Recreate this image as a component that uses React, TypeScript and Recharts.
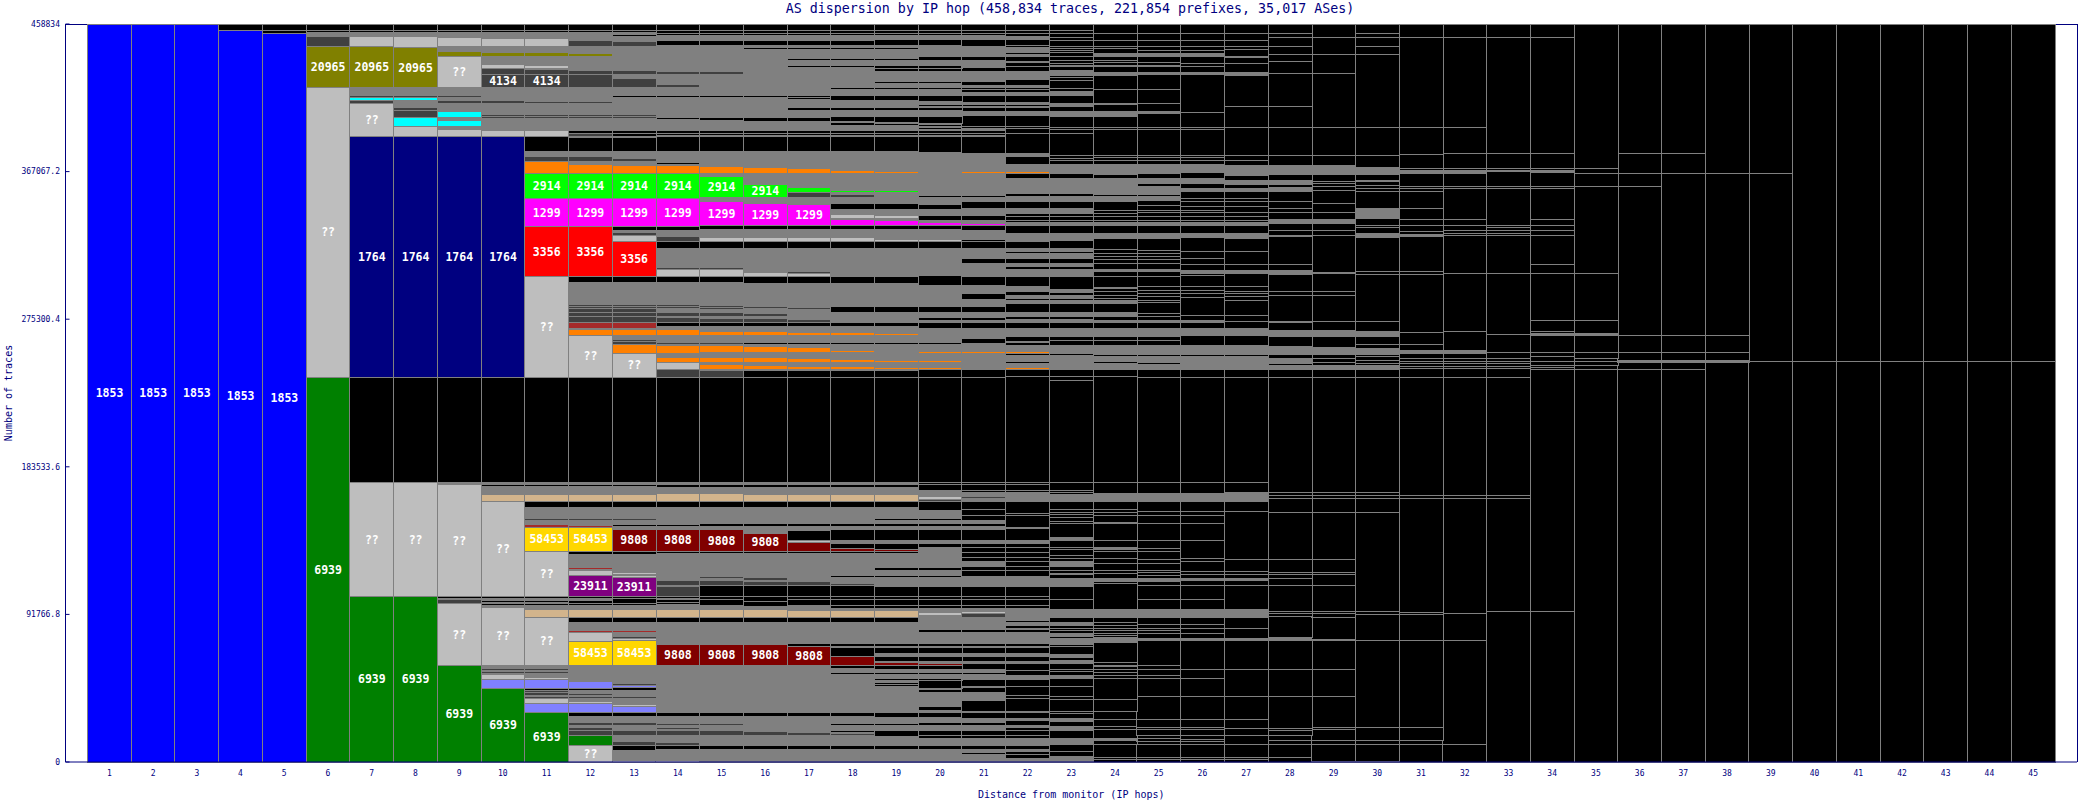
import React from 'react';
import { BarChart, Bar, XAxis, YAxis, Cell, LabelList } from 'recharts';

// AS categories (a bare number in a hop list means "other small AS")
const g = 'many', d = 'dark', s = 'unknown', e = '1853', f = '6939', n = '1764', o = '20965', c = 'cyanAS', a = 'orangeAS',
  l = '2914', m = '1299', r = '3356', b = 'brownAS', t = 'tanAS', y = '58453', p = '23911', w = '9808', v = 'violetAS', k = 'other';

const CATEGORY_COLORS: Record<string, string> = {
  many: '#808080', dark: '#404040', unknown: '#bebebe', '1853': '#0000ff', '6939': '#008000', '1764': '#000080',
  '20965': '#808000', cyanAS: '#00ffff', orangeAS: '#ff8000', '2914': '#00ff00', '1299': '#ff00ff', '3356': '#ff0000',
  brownAS: '#a52a2a', tanAS: '#d2b48c', '58453': '#ffd700', '23911': '#800080', '9808': '#800000', violetAS: '#8080ff', other: '#000000',
};

const TOTAL_TRACES = 458834;
const Y_TICKS = [0, 91766.8, 183533.6, 275300.4, 367067.2, 458834];

// Each hop, top to bottom: the trace count at the lower edge of each block
const HOP_01 = [[0, e, '1853']];
const HOP_02 = [[0, e, '1853']];
const HOP_03 = [[0, e, '1853']];
const HOP_04 = [454650, [0, e, '1853']];
const HOP_05 = [454770, 453220, [0, e, '1853']];
const HOP_06 = [454770, 453840, [451350, g], [444950, d], [419460, o, '20965'], [239170, s, '??'], [0, f, '6939']];
const HOP_07 = [454770, 453840, [451050, g], [444950, s], [419460, o, '20965'], [414360, g], [413120, d], [411570, c], [409390, d], [388870, s, '??'], [239170, n, '1764'], 173890, [102770, s, '??'], [0, f, '6939']];
const HOP_08 = [454770, 453840, [451050, g], [444210, s], [419460, o, '20965'], [414360, g], [413120, d], [411570, c], [406790, g], [405040, d], [400690, d], [395210, c], [388870, s], [239170, n, '1764'], 173890, [102770, s, '??'], [0, f, '6939']];
const HOP_09 = [454770, 453840, [450420, g], [444950, s], [441720, g], [438730, o], [419460, s, '??'], [414360, g], [413120, d], [411260, g], [409390, d], [404420, g], [400690, c], [399130, g], [395210, c], [393540, g], [388870, s], [239170, n, '1764'], 173890, [172400, g], [102770, s, '??'], 101960, [100720, g], [98410, d], [60120, s, '??'], [0, f, '6939']];
const HOP_10 = [454770, 453840, [449680, g], [444950, s], [441100, g], [438730, o], [438300, g], 437360, [433950, g], [431150, s], [427550, d], [419460, d, '4134'], [411260, g], [409390, d], [402860, g], [401620, d], [400380, d], [392910, g], [388870, s], [239170, n, '1764'], 173890, [172400, g], 171280, [166620, g], [161950, t], [102770, s, '??'], 101960, [100400, g], 99160, [98540, g], 97610, [96050, g], [60120, s, '??'], [58130, g], [56890, d], [56260, g], [55020, d], [54710, g], [51290, s], [45820, v], [0, f, '6939']];
const HOP_11 = [454770, 453840, [449680, g], [444950, s], [441100, g], [438730, o], [438300, g], 437360, [433010, g], [431150, s], [430840, g], [427550, d], [419460, d, '4134'], [410630, g], [409390, d], [402860, g], [401620, d], [400380, d], [392600, g], [388870, s], 379670, [376750, g], [373330, d], [365990, a], [350330, l, '2914'], [332920, m, '1299'], [301840, r, '3356'], [239170, s, '??'], 173890, [172400, g], 171280, [166620, g], [161950, t], 158220, [151380, g], [150140, d], [147960, g], [145910, b], [130990, y, '58453'], [102770, s, '??'], 101960, [100400, g], 99160, [98540, g], 97610, [94810, g], [89840, t], [60120, s, '??'], [58130, g], [56890, d], [56260, g], [55020, d], [52840, g], [51600, s], [45820, v], 44760, [43520, d], [42900, g], [41650, d], [41030, g], [39600, d], [36490, s], [30900, v], [0, f, '6939']];
const HOP_12 = [454770, 453840, [448870, g], [444950, d], [440480, g], [438730, o], [438300, g], 437360, [429910, g], [427550, d], [419460, d], [410630, g], [409390, d], [402860, g], [401620, d], [400380, d], [392600, g], 390740, [389190, d], [388560, g], 379670, [376750, g], [373330, d], [371470, g], [365990, a], [350330, l, '2914'], [332920, m, '1299'], [301840, r, '3356'], 298420, [284430, g], [283180, d], [281940, d], [279770, d], [277090, d], [273360, d], [269630, b], [268890, g], [265280, a], [239170, s, '??'], 173890, [172400, g], 171280, [166620, g], [161950, t], 158220, [151380, g], [150140, d], [147340, g], [145910, b], [130990, y, '58453'], 129130, [121850, g], [120920, d], [119680, b], [119370, g], [115950, s], [102770, p, '23911'], 101960, [100400, g], 98410, 97610, [94810, g], [89840, t], 87040, [83310, g], [82380, d], [81750, g], [80820, b], [75040, s], [60120, y, '58453'], [50980, g], [50050, s], [45820, v], 44760, [42590, g], [41650, d], [41030, g], [39600, d], [37920, g], [36490, s], [30900, v], 28410, [24560, g], [23000, d], [22380, g], [21320, d], [21140, g], [19710, d], [16600, d], [10380, f], [0, s, '??']];
const HOP_13 = [454770, 453840, [452290, g], 451050, [448250, g], [444950, d], [438300, g], 437360, [429910, g], [427550, d], [425240, g], [419460, d], [414360, g], 413120, [402860, g], [401620, d], [400380, d], [392600, g], 390740, 389190, [388560, g], 379670, [375510, g], [373330, d], [370840, g], [365990, a], [350330, l, '2914'], [332920, m, '1299'], 330560, [329200, g], [327440, d], [323710, s], [301840, r, '3356'], 298420, [284430, g], [283180, d], [281940, d], [279770, d], [277090, d], [273360, d], [269630, b], [269010, g], [265280, a], [262670, g], [261430, d], [259680, d], [254090, a], [239170, s, '??'], 173890, [172400, g], 171280, [166620, g], [161950, t], 158220, [151380, g], [150140, d], [147530, g], 146410, [144860, g], [130990, w, '9808'], 129130, [121850, g], [120920, d], [117810, g], [116320, s], [115950, g], [114830, s], [102770, p, '23911'], 101960, 98410, 97610, [94810, g], [89840, t], 87040, [83310, g], [82380, d], [81750, g], [80820, b], [78020, g], [76900, d], [75230, s], [60120, y, '58453'], [48800, g], [47870, d], [46010, v], 44760, [41030, g], [39790, d], [35750, g], [34260, s], [30900, v], 28410, [24560, g], [23000, d], [22380, g], [21320, d], [20830, g], [20080, s], [19710, g], [16600, d], [16160, g], 15540, [12870, g], [10380, d], 7460, [1240, g], [0, s]];
const HOP_14 = [454770, 453220, 451660, [448310, g], 445450, [438300, g], 437680, [430840, g], 430030, [429290, g], [427420, d], [421080, g], [419460, d], [414180, g], 413430, [400500, g], 399630, [392480, g], 390740, 389500, [388670, g], 379670, [373020, g], 371470, [370840, g], [365990, a], [350330, l, '2914'], [332920, m, '1299'], 330560, [326700, g], [323710, d], 319120, [307430, g], [306190, d], [301840, s], 298420, [284430, g], [283180, d], [281940, d], [279580, g], [277090, d], [276350, g], [273360, d], 270880, [268760, g], [265280, a], [261110, g], [259870, d], [259250, g], [254090, a], [251790, g], [248680, a], [248240, g], [244140, s], [239170, d], 173890, [172640, g], 170970, [166740, g], [161950, t], 158040, [147530, g], 146600, [144860, g], [131180, w, '9808'], 129440, [115640, g], [114830, d], [114390, g], [113460, d], [112840, g], [109920, d], [109420, g], [103080, d], 101960, [100720, g], 99160, 97920, [94810, g], [89840, t], 87040, [82060, g], 81320, [73360, g], [60120, w, '9808'], [45260, g], 44640, [32020, g], [31090, v], [30590, g], 28470, [23750, g], [22880, d], [21260, g], [20390, d], [19400, g], [16600, d], 15600, [11940, g], [10440, d], 7520, [750, g], [0, s]];
const HOP_15 = [454770, 453220, 451660, [448310, g], 445450, [438300, g], 437680, [430840, g], 430030, [429290, g], [427420, d], [414180, g], 413430, [400690, g], 399000, [392480, g], 390740, 389500, [388670, g], 379670, [370530, g], [365990, a], [363880, g], [350700, l, '2914'], [348770, g], [333290, m, '1299'], 331060, [325960, g], [323710, s], 319360, [307430, g], [306190, d], [301960, s], 298230, [284120, g], [282870, d], [281630, d], [279210, g], [277090, d], [276040, g], [273360, d], 270880, [267950, g], [265280, a], [260930, g], [259870, d], [259250, g], [254330, a], [251600, g], [248490, a], [247310, g], [244140, a], [243270, g], [239170, d], 173890, [172640, g], 170970, [166740, g], [161950, t], 158040, [148280, g], 146660, [144360, g], [130990, w, '9808'], 129440, [115320, g], [114390, d], [112840, g], [109920, d], 103080, 100720, 97420, [94690, g], [90020, t], 87040, [82060, g], 81320, [73360, g], [60120, w, '9808'], [45260, g], 44640, [30590, g], 28470, [23750, g], [22880, d], [19400, g], [16600, d], 15600, [10070, g], 7520, [0, g]];
const HOP_16 = [454770, 453220, 451660, [448310, g], 445450, [444080, g], 443270, [438300, g], 437680, [432700, g], 432140, [430840, g], 430030, [428350, g], [427420, d], [425560, g], 424810, [414300, g], 413430, [400690, g], 398390, [392480, g], 390740, 389500, [388670, g], 379670, [369910, g], [365990, a], [363700, g], 363070, [359340, g], [350700, l, '2914'], [347340, g], [333290, m, '1299'], 331060, [325960, g], [323710, s], 319360, [304630, g], [301960, s], 297790, [283490, g], [282250, d], [281630, d], [278830, g], [277090, d], [276040, g], [273360, d], 270880, [267950, g], [265280, a], [260930, g], 259870, [258190, g], [254330, a], [251600, g], [248490, a], [246810, g], [244140, a], [243270, g], [239170, k], 173890, [172640, g], 170970, [166120, g], [161950, t], 158040, [148280, g], 146660, [142370, g], [131180, w, '9808'], 129440, [114580, g], [113030, d], [112090, g], [109920, d], 103080, 100090, 96680, [94690, g], [90020, t], 87040, [82060, g], 81320, [73360, g], [60120, w, '9808'], [45260, g], 44640, [30590, g], 28470, [18840, g], [16600, d], 15600, [10070, g], 7520, [0, g]];
const HOP_17 = [454770, 453220, 451660, [448310, g], 445450, [444080, g], 443270, [438300, g], 437620, [437360, g], 436310, [432770, g], 431780, [430840, g], 429650, [428350, g], [427420, d], [425430, g], 424680, [414300, g], 413430, [412990, g], 412060, [406720, g], 405230, [400500, g], 398390, [392480, g], 390740, 389500, [388670, g], 379670, [369290, g], [365990, a], [363700, g], 363070, [357040, g], [354180, l], [350700, d], [346910, g], [333290, m, '1299'], 331060, [325960, g], [323710, s], 319360, [308680, g], 308050, [305250, g], [303580, d], [301960, s], 297790, [283490, g], [282560, d], [281630, d], [275410, g], [273360, d], 270880, [267330, g], [265280, a], [260930, g], 259870, [257570, g], [254330, a], [251170, g], [248490, a], [246190, g], [244140, a], [243270, g], 239170, 173890, [172640, g], 170970, [166120, g], [161950, t], 158040, [148090, g], 146160, [144230, g], 137890, [137580, g], [136400, s], [131180, w], 129440, [113710, g], [113030, d], [112090, g], [109920, d], 103080, 100720, 97420, [94060, g], [90020, t], 87040, [82060, g], 81320, [73550, g], 71500, [60120, w, '9808'], [45260, g], 44640, [40290, g], 39660, [30590, g], 28470, [18460, g], [16600, d], 15600, [10070, g], 7520, [0, g]];
const HOP_18 = [454770, 453220, 451660, [448310, g], 445450, [444080, g], 443270, [438300, g], 437620, [437360, g], 436310, [432770, g], 431780, [430840, g], 429650, [425430, g], 424680, [419210, g], 418280, [414300, g], 411440, [406720, g], 405230, [401120, g], 398010, [397390, g], 396030, [392480, g], 390740, 389500, [388670, g], 379670, [378620, g], [372400, g], 371780, [368050, g], [365990, a], [363700, g], 363070, [355610, g], [354180, l], [352820, g], [350700, d], [347100, g], 343800, [340690, g], [338010, s], [337580, g], [333290, m], 331060, [325960, g], [323710, s], 319360, [308680, g], 308050, [304820, g], 304130, [303080, g], 302460, [301840, g], 297790, [288470, g], 287850, [283490, g], 279770, [276350, g], 275720, [274170, g], 273550, 270880, [269820, g], 269200, [267140, g], [265280, a], [260930, g], 259870, [256140, g], [254330, a], [250550, g], [248490, a], [246190, g], [244140, a], [243270, g], 239170, 173890, [172640, g], 170970, [166120, g], [161950, t], 158040, [148090, g], 146160, [144420, g], 137890, [136030, g], 132730, [131180, w], 129440, [115820, g], 114890, [110850, g], [109920, d], 103080, 100720, 97420, 95740, [94060, g], [90020, t], 87040, [82060, g], 81320, [73550, g], 71870, [70930, g], 65780, [60120, w], 58250, [55460, g], 54710, [49300, g], 48550, [45260, g], 44640, [40290, g], 39660, [30590, g], 28470, [23750, g], 22880, [19400, g], 18510, [17590, g], [16600, d], 15600, [10070, g], 7520, [0, g]];
const HOP_19 = [454770, 453220, 451660, [449050, g], 445450, [444080, g], 443270, [438300, g], 437620, [437360, g], 436310, [432770, g], 431460, [430900, g], 429290, [425430, g], 424680, [422820, g], 421830, [419210, g], 418280, [414300, g], 411440, [406720, g], 405230, [401120, g], 397450, [396960, g], 395720, [392480, g], 390740, 389500, [388670, g], 379670, [378620, g], [372400, g], 371780, [367430, g], [365990, a], [363700, g], 363070, [355610, g], [354180, l], [351890, g], [350700, d], [347100, g], 343800, [342560, g], 341940, [339760, g], [338010, s], [336960, g], [333290, m], 331060, [325150, g], [323710, s], 319360, [308680, g], 308050, [304820, g], 304130, [303080, g], 302460, [301840, g], 297790, [288470, g], 287850, [283490, g], 279770, [276350, g], 275720, [274170, g], 273550, 270880, [269820, g], 269200, [266400, g], [265280, a], [260930, g], 259870, [255520, g], [254330, a], [249920, g], [248490, a], [245570, g], [244140, a], [243270, g], 239170, 173890, [172640, g], 170970, [166120, g], [161950, t], 158040, [151200, g], 149890, [148090, g], 146160, [144420, g], 137890, [136030, g], 132110, [131930, g], [131060, w], 129440, [120730, g], 119240, [115820, g], 114890, [109300, g], 103080, 100720, 97420, 95430, [94060, g], [90020, t], 87040, [82060, g], 81320, [73550, g], 71870, [70930, g], 67450, [65590, g], 62240, [61740, g], [60180, w], 57690, [55460, g], 54710, [51790, g], 50980, [49300, g], 48360, [48050, g], 47130, [45260, g], 44640, [40290, g], 39660, [30590, g], 27850, [23750, g], 22880, [19400, g], 15600, [10070, g], 7520, [0, g]];
const HOP_20 = [454770, 453220, 451660, [449050, g], 445450, [438610, g], 436310, [432770, g], 431460, [431150, g], 429290, [425430, g], 424680, [422820, g], 421830, [419210, g], 418280, [414300, g], 410510, [408900, g], 407830, [407210, g], 405230, [401430, g], 396840, [396340, g], 395210, [394350, g], 393100, [392480, g], 390740, 389500, [388670, g], 379240, [373020, g], 372400, [366800, g], [365990, a], [363700, g], 363070, [359970, g], 359340, [353130, g], 352510, 350960, [346910, g], 343800, [342560, g], 341940, [340070, g], 336960, [335410, g], [333290, m], 331060, [325150, g], [323710, s], 319360, [310240, g], 309620, [307740, g], 307120, [304820, g], 304130, [303080, g], 302460, 296550, [291580, g], 290950, [288280, g], 287850, [283490, g], 279770, [276650, g], 274480, [273360, g], 269510, [266090, g], [265280, a], [260930, g], 259870, [255080, g], [254270, a], [249610, g], [248680, a], [245130, g], [244140, a], [239170, k], 173890, 172330, 168980, [165060, g], [163380, s], [162080, d], 156540, [151200, g], 149890, [148090, g], 146160, [144420, g], 137890, [136030, g], 133230, [120920, g], 119240, [115820, g], 114890, [109300, g], 103080, 100720, 97420, 95430, [92940, g], [91260, s], [89840, g], [84680, g], 83990, [82180, g], 80820, [73550, g], 71870, [70930, g], 67450, [65590, g], 62240, [61240, g], [60180, w], 57690, [55460, g], 54710, [51790, g], 50980, [50420, g], 45690, [44950, g], 42900, [40290, g], 39660, [36250, g], 35440, [34380, g], 32200, [30590, g], 27850, [24430, g], 22880, [19520, g], 16600, 14920, [10070, g], 7520, [0, g]];
const HOP_21 = [454770, 453220, 451660, [449050, g], 445130, [438730, g], 436250, [433330, g], 432140, [431780, g], 429290, [425240, g], 424620, [422950, g], 420700, [419530, g], 418220, [417840, g], 416350, [414300, g], 410130, [408900, g], 407650, [407090, g], 404730, [401800, g], 395410, [394910, g], 394040, [392480, g], 390740, 389500, [388870, g], 378300, [373020, g], 372400, [367240, g], [365990, a], [363700, g], 363070, [359970, g], 359340, [353130, g], 352510, 350960, [348770, g], 344120, [340070, g], 336960, [335100, g], [333290, m], 330740, [325150, g], 323900, 319360, [317070, g], 316450, [313340, g], 309920, [308370, g], 307740, [301840, g], 296550, [291580, g], 287850, [285980, g], 285360, [283490, g], 279770, [276650, g], 274480, [273360, g], 269820, [263120, g], 260490, [255080, g], [254270, a], [249300, g], [248680, a], [244940, g], [244140, a], [239170, k], 173890, 172330, 168980, 167360, [165870, g], [165250, t], [164130, d], [162140, g], 157290, 153250, 149890, [148090, g], 146160, [144420, g], 137890, [136030, g], 133540, 130430, 127140, 124470, [121360, g], 119240, 115080, [109420, g], 103080, 100720, 97420, 95430, [93570, g], [92320, s], [90150, d], [86730, g], 86110, [84680, g], 83990, [82180, g], 80820, [79080, g], 78400, [73550, g], 71870, [70930, g], 67450, [65590, g], 62240, [61360, g], 57690, [55460, g], 54210, [51170, g], 46750, [46500, g], 42900, [40290, g], 39350, [38110, g], 31580, [30590, g], 27230, [24430, g], 22880, [19520, g], 16600, 14920, [10070, g], 7520, [5600, g], 4850, 4040, [0, g]];
const HOP_22 = [454770, 453220, 451350, [450110, g], 449050, 445250, 444080, [441220, g], 440160, [438610, g], 435500, [434690, g], 432700, 429290, [425240, g], 424620, 420700, [419530, g], 418220, [417840, g], 416350, [414300, g], 410130, [408900, g], 407650, [407090, g], 404730, [401800, g], 395410, 394040, 390740, 378620, [376320, g], 371780, [367120, g], [365990, a], 362820, [359340, g], 358290, [353560, g], 351890, [348340, g], 344240, [341130, g], 339010, 336960, 335280, [334410, g], [333290, m], 328680, [323470, g], 319360, [317250, g], 316260, [313150, g], 310040, [307930, g], 306310, [302150, g], 295930, [292390, g], 290330, [288280, g], 287230, [285170, g], 279330, [276840, g], 275410, [273110, g], 269630, [265280, g], [264430, g], 261300, 260800, 259250, [255080, g], [254090, a], 253030, [249610, g], [248870, a], 247870, [245130, g], [244140, a], 239540, 173890, 172330, 168980, 167360, [161830, g], 154550, 153560, 145790, [145040, g], 137890, [136030, g], 133540, 130430, 127140, 124470, 121850, 119240, 115080, [109420, g], 103080, 100720, 97420, 95430, [88280, g], 86600, [84680, g], 83310, [82180, g], 80820, [79080, g], 78400, [73550, g], 71870, [70930, g], 67450, [65590, g], 62240, [61360, g], 57070, [56700, g], 53960, [51170, g], 47130, [46750, g], 41530, [41150, g], 39790, [39170, g], 31580, [30590, g], 26860, [25930, g], 22510, [21570, g], 19710, 16600, 14920, [10070, g], 7520, [6400, g], 4660, 2180, [0, g]];
const HOP_23 = [454770, 453220, 450550, 448870, 444700, 443580, 442340, 441100, 438930, 435990, 434570, 433330, 432270, 429780, [427110, g], 425680, 424000, 419030, 416730, [414670, g], 409510, [407830, g], 404290, [401620, g], 394590, 393230, 390740, 377370, 375510, 374260, 371780, [366170, g], 363070, [359340, g], 358290, [353560, g], 351890, [348340, g], 344240, [341130, g], 339010, 336960, 335280, [333420, g], 328680, [324530, g], 319360, [317250, g], 316260, [313150, g], 310040, [307930, g], 306310, [302150, g], 294060, [291770, g], 290330, [288280, g], 287230, [285170, g], 279330, [276840, g], 275410, [273110, g], 269630, [264430, g], 262360, 259250, [254090, g], 253030, [249300, g], [248680, a], 247870, [244140, g], 239540, 237490, 173890, 169100, 167860, 166620, [161830, g], 156980, 155430, 154180, 152320, 149390, 148400, 139880, [137580, g], 133480, 132420, 128690, 126640, 124530, 123910, [121850, g], 119370, 117310, 116880, 114210, [109420, g], 101150, 94930, [89960, g], 86600, [84740, g], 82990, 82060, 80010, [78330, g], 77090, [73360, g], 71680, 67140, [65090, g], 62980, [60930, g], 57630, 56140, 54090, [52040, g], 46810, 40600, 38550, 31270, 30280, 27170, [25490, g], 22380, [19460, g], 14730, [10570, g], 6400, 3290, [0, g]];
const HOP_24 = [453220, 448870, 444700, 443580, 440600, [438930, g], 435990, 434750, 433330, 432270, 428540, [427110, g], 418400, 409510, 408770, 404290, [401620, g], 394590, 393350, 377370, 375890, 374260, 371780, [365550, g], 363070, [358720, g], 357670, [353130, g], 351890, [348340, g], 343180, 341130, 339010, 336960, 335280, [333420, g], 328680, [325580, g], 318930, 316260, 314580, 312530, 310040, 306310, [304820, g], 301710, 295310, 294250, 292390, 290330, 288280, 287230, [285170, g], 279330, [276840, g], 274790, [273110, g], 269630, [264430, g], 262360, 259250, [253650, g], 252410, [248870, g], 247870, [244140, g], 239540, 173890, 167050, [161830, g], 157100, 155240, 153560, 149210, [148280, g], 137580, 133480, [132240, g], 130740, 126640, 123530, 119370, 117310, 114210, [112090, g], 111100, 94930, [89960, g], 86600, 85170, 83120, 81630, 80010, 78950, 77710, [74790, g], 74170, 61980, 60300, 59250, 57200, 55770, 54090, 52040, 38550, 31270, 26550, 21950, 20330, 14920, [13240, g], 11190, 10570, 2920, 1680, 0];
const HOP_25 = [453220, 448870, 444700, 442650, 440600, [438930, g], 434750, 433330, 432270, 428540, [427420, g], 418220, 409510, 404290, [403170, g], 394590, 393350, 377370, 375890, 374260, 371780, [365860, g], 363070, [359660, g], 357670, [353130, g], 351460, [349400, g], 346290, 343180, 341500, 339010, 336960, 335280, [333420, g], 328680, [325580, g], 318310, 316260, 314580, 312530, 310040, 306310, [304820, g], 302150, 295490, 293440, 291390, 289270, 287230, 285550, 278960, 276840, 274790, [273110, g], 269630, [264430, g], 262360, 259250, [253650, g], 252410, [248240, g], 247430, [244140, g], 239170, 173890, 167050, [161830, g], 155610, 153560, 148590, 137580, 132860, 130740, 126020, 123530, 119370, 117690, 116260, 114210, [112530, g], 110040, 101150, 94930, [89960, g], 85790, 83120, 81630, 80010, 76900, [75410, g], 60300, 57630, 54090, 52040, 40600, 26550, 21570, 20330, 16600, 14730, 12620, 10570, 2920, 1680, 0];
const HOP_26 = [453220, 448870, 444700, 442650, 440600, [438930, g], 434380, 432270, 428540, [427420, g], 403920, 394590, 393350, 377370, 375890, 374260, 371780, [366490, g], 363070, [359660, g], 356860, [354560, g], 350460, 348340, 345240, 343180, 341500, 339010, 336960, 335280, [333420, g], 328680, [326210, g], 317500, 313150, 309000, 305440, [303820, g], 302770, 295490, 293010, 291390, 288900, 277900, 274290, [273110, g], 269630, [265470, g], 259250, [253650, g], 252410, [248060, g], 247430, [244140, g], 239170, 173890, 167050, [161830, g], 155610, 153560, 148590, 137580, 126640, 124530, 118310, 116880, 114210, [113150, g], 110040, 101150, 94930, [89960, g], 85790, 83120, 80010, 77090, [75410, g], 57630, 52040, 40600, 26550, 21570, 20330, 16600, 14110, 12620, 10570, 2920, 1680, 0];
const HOP_27 = [453220, 448870, 444700, 443090, 438930, 438110, 434380, 428540, [427110, g], 407400, 394590, 377370, 374260, 371150, [365550, g], 364930, 361830, [359340, g], 356860, [354560, g], 350460, 348340, 345240, 341500, 339010, 336960, 335280, [333420, g], 328680, [325580, g], 317500, 309000, 305440, [303820, g], 295490, 292390, 291390, 289270, 287230, 277900, 273740, 269630, [265470, g], 259250, [253650, g], 252410, [248060, g], 247430, [244140, g], 239170, 173890, 167670, 167050, [161830, g], 155610, 126020, 118310, 116880, 114210, [113150, g], 110040, 94930, [89960, g], 83120, 77090, [75410, g], 57630, 40600, 26550, 20950, 16600, 10570, 2920, 1680, 0];
const HOP_28 = [453220, 450550, 444700, 439980, 435620, 428160, 407400, 394590, 377370, 371150, [365550, g], 361830, [359340, g], 357480, [354560, g], 348340, 344240, 341500, 337390, [334910, g], 330740, 327630, [327010, g], 309000, 305440, [303390, g], 292390, 290330, 274170, [273110, g], 268570, [264850, g], 258190, [253460, g], 250980, [247870, g], 246810, [244140, g], 239170, 167670, 165990, 163940, 155240, 126020, 117930, 116690, 114210, 110040, 93880, 92440, 90330, 77710, [75410, g], 57630, 40600, 20950, 19890, 16600, 13240, 10570, 2920, 0];
const HOP_29 = [450550, 439980, 428160, 394590, 377370, 370720, [365550, g], 360770, 359780, 357670, 355610, 347530, 341500, 337390, [335100, g], 330310, 327630, 304630, 303820, 292390, 290330, 273740, 268570, [264850, g], 257820, [253460, g], 250980, 248240, 246810, [244140, g], 239170, 167420, 165990, 163940, 155240, 126020, 117930, 116690, 110040, 93880, 92440, 89960, 76160, [75410, g], 57630, 40600, 21760, 20330, 13240, 10570, 620, 0];
const HOP_30 = [453220, 450550, 444700, 439980, 394590, 377370, 369720, [365550, g], 361830, 360770, 358720, 356670, 354560, 344240, [338010, g], 333850, 332430, 328680, [326210, g], 304820, 303390, 273740, 267950, [264850, g], 259680, 257200, [253460, g], 252410, 249920, 247870, 246810, [244140, g], 239170, 167670, 165990, 163940, 155240, 93440, 91820, 75850, 21570, 13240, 10570, 620, 0];
const HOP_31 = [450550, 394590, 377990, 369100, 367610, [366170, g], 357670, 356670, 354560, 344240, 337390, 333660, 330120, 328250, [326580, g], 304820, 303390, 267330, 259870, 255700, [254090, g], 250980, 249300, 247870, 246190, 244750, 239170, 165810, 163940, 92940, 91820, 75850, 21570, 13240, 10570, 0];
const HOP_32 = [450550, 394590, 378300, 369100, 367610, [366170, g], 357670, 356670, 337390, 333660, 330740, 328680, 327630, 303820, 267520, 256140, [254090, g], 250980, 249300, 247870, 246190, 244750, 239170, 165810, 163940, 92440, 75850, 11190, 0];
const HOP_33 = [450550, 378430, 369100, 368050, 366990, 357910, 356670, 333660, 332430, 330740, 328440, 327440, 303820, 266090, 254450, 251170, 249300, 247870, 245760, 244750, 239170, 165810, 163940, 93690, 0];
const HOP_34 = [450550, 378430, 369100, 368050, [366360, g], 357910, 356670, 337390, 333660, 330310, 327440, 309430, 303820, 274600, 267770, 266520, [265280, g], 254700, 252410, 249300, 246630, 245380, 244320, 93690, 0];
const HOP_35 = [369100, 365990, 357910, 303820, 274600, 266520, [265280, g], 254700, 250730, 249300, 246630, 244140, 0];
const HOP_36 = [378430, 365990, 357910, 265280, 254700, 249920, [248680, g], 244140, 0];
const HOP_37 = [378430, 365990, 265280, 254700, 249920, [248680, g], 244140, 0];
const HOP_38 = [365990, 265280, 254700, 249610, [248680, g], 0];
const HOP_39 = [365990, 249300, 0];
const HOP_40 = [249300, 0];
const HOP_41 = [249300, 0];
const HOP_42 = [249300, 0];
const HOP_43 = [249300, 0];
const HOP_44 = [249300, 0];
const HOP_45 = [249300, 0];

const HOPS: any[][] = [HOP_01, HOP_02, HOP_03, HOP_04, HOP_05, HOP_06, HOP_07, HOP_08, HOP_09, HOP_10, HOP_11, HOP_12, HOP_13, HOP_14, HOP_15, HOP_16, HOP_17, HOP_18, HOP_19, HOP_20, HOP_21, HOP_22, HOP_23, HOP_24, HOP_25, HOP_26, HOP_27, HOP_28, HOP_29, HOP_30, HOP_31, HOP_32, HOP_33, HOP_34, HOP_35, HOP_36, HOP_37, HOP_38, HOP_39, HOP_40, HOP_41, HOP_42, HOP_43, HOP_44, HOP_45];

// Turn each hop into bottom-up stacked layers
const stacks = HOPS.map((hop) => {
  let top = TOTAL_TRACES;
  const out: { value: number; cat: string; label?: string }[] = [];
  for (const item of hop) {
    const [low, cat, label] = Array.isArray(item) ? item : [item, k, undefined];
    out.push({ value: Math.max(top - low, 0), cat, label });
    top = low;
  }
  return out.reverse();
});
const LAYERS = Math.max(...stacks.map((x) => x.length));
const rows = stacks.map((stack, i) => {
  const row: Record<string, any> = { hop: String(i + 1) };
  stack.forEach((seg, j) => {
    row[`v${j}`] = seg.value;
    if (seg.label) row[`n${j}`] = seg.label;
  });
  return row;
});
const layerIds = Array.from({ length: LAYERS }, (_, j) => j);
const hasLabel = (j: number) => rows.some((row) => row[`n${j}`]);

const NAVY = '#000080';
const MONO = '"DejaVu Sans Mono", monospace';

export default function App() {
  return (
    <div style={{ position: 'absolute', left: 0, top: 0, width: 2078, height: 800, background: '#fff' }}>
      <div style={{ position: 'absolute', left: 0, width: 2140, top: 1, textAlign: 'center', font: `13.3px ${MONO}`, color: NAVY, lineHeight: '16px', whiteSpace: 'pre' }}>
        AS dispersion by IP hop (458,834 traces, 221,854 prefixes, 35,017 ASes)
      </div>
      <div style={{ position: 'absolute', left: 65, top: 24, width: 2013, height: 738, boxSizing: 'border-box', borderTop: `1px solid ${NAVY}`, borderRight: `1px solid ${NAVY}` }} />
      <BarChart width={2078} height={800} data={rows} margin={{ top: 24, right: 1, bottom: 0, left: 0 }} barCategoryGap={0} barGap={0}>
        <XAxis
          dataKey="hop"
          height={38}
          interval={0}
          padding={{ left: 22, right: 22 }}
          stroke={NAVY}
          tickLine={false}
          tickMargin={2}
          tick={{ fill: NAVY, fontSize: 8, fontFamily: MONO }}
          label={{ value: 'Distance from monitor (IP hops)', position: 'insideBottom', offset: 2, fill: NAVY, fontSize: 10, fontFamily: MONO }}
        />
        <YAxis
          width={65.5}
          type="number"
          domain={[0, TOTAL_TRACES]}
          ticks={Y_TICKS}
          interval={0}
          stroke={NAVY}
          tickSize={-4}
          tickMargin={9.5}
          tick={{ fill: NAVY, fontSize: 8, fontFamily: MONO }}
          label={{ value: 'Number of traces', angle: -90, position: 'insideLeft', offset: 8, fill: NAVY, fontSize: 10, fontFamily: MONO, style: { textAnchor: 'middle' } }}
        />
        {layerIds.map((j) => (
          <Bar key={j} dataKey={`v${j}`} stackId="traces" stroke="#808080" strokeWidth={1} shapeRendering="crispEdges" isAnimationActive={false}>
            {stacks.map((stack, i) => (
              <Cell key={i} fill={stack[j] ? CATEGORY_COLORS[stack[j].cat] : 'none'} />
            ))}
            {hasLabel(j) ? <LabelList dataKey={`n${j}`} position="center" fill="#fff" fontSize={11.5} fontWeight="bold" fontFamily={MONO} /> : null}
          </Bar>
        ))}
      </BarChart>
    </div>
  );
}
